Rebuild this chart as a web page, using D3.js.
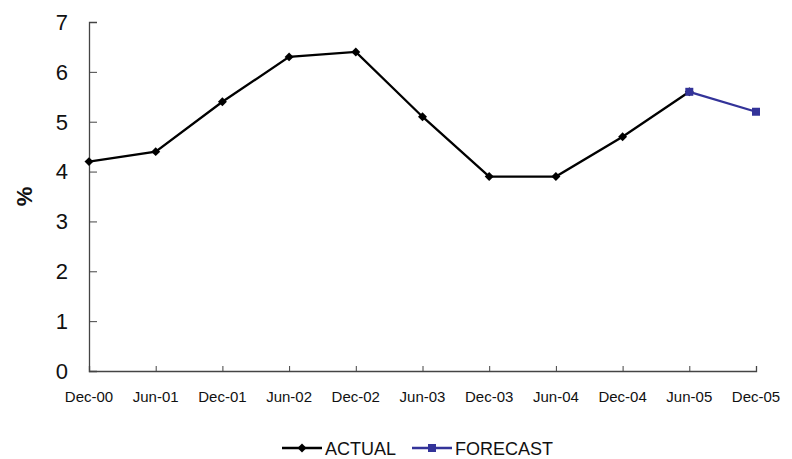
<!DOCTYPE html>
<html>
<head>
<meta charset="utf-8">
<script src="https://cdn.jsdelivr.net/npm/d3@7"></script>
<style>
  body { margin: 0; background: #fff; }
  svg { font-family: Arial, "Liberation Sans", sans-serif; }
</style>
</head>
<body>
<div id="chart"></div>
<script>
// categories + values
var periods = ["Dec-00","Jun-01","Dec-01","Jun-02","Dec-02","Jun-03","Dec-03","Jun-04","Dec-04","Jun-05","Dec-05"];
var actual = [4.2, 4.4, 5.4, 6.3, 6.4, 5.1, 3.9, 3.9, 4.7, 5.6, null];
var forecast = [null, null, null, null, null, null, null, null, null, 5.6, 5.2];
var yTicks = [0, 1, 2, 3, 4, 5, 6, 7];

var W = 792, H = 459;
var margin = {top: 22, right: 36, bottom: 88, left: 89},
    width = W - margin.left - margin.right,
    height = H - margin.top - margin.bottom;

var svg = d3.select("#chart").append("svg")
  .attr("width", W)
  .attr("height", H);

var g = svg.append("g")
  .attr("transform", "translate(" + margin.left + "," + margin.top + ")");

var xScale = d3.scalePoint().domain(periods).range([0, 667]);
var yScale = d3.scaleLinear().domain([0, 7]).range([height, 0]);

// y axis, ticks point inwards
var yAxis = d3.axisRight(yScale).tickValues(yTicks).tickSize(8).tickFormat("");
var yg = g.append("g").call(yAxis);
yg.select(".domain").attr("stroke", "#444").attr("stroke-width", 1.3);
yg.selectAll(".tick line").attr("stroke", "#444");
g.selectAll(".ylab").data(yTicks).enter().append("text")
  .attr("class", "ylab")
  .attr("x", -21)
  .attr("y", function(d){ return yScale(d); })
  .attr("dy", "0.36em")
  .attr("text-anchor", "end")
  .attr("font-size", "22px")
  .attr("fill", "#111")
  .text(function(d){ return d; });

// x axis, ticks up
var xAxis = d3.axisTop(xScale).tickSize(5).tickFormat("");
var xg = g.append("g").attr("transform", "translate(0," + height + ")").call(xAxis);
xg.select(".domain").attr("stroke", "#444").attr("stroke-width", 1.3);
xg.selectAll(".tick line").attr("stroke", "#444");
g.selectAll(".xlab").data(periods).enter().append("text")
  .attr("class", "xlab")
  .attr("x", function(d){ return xScale(d); })
  .attr("y", height + 31)
  .attr("text-anchor", "middle")
  .attr("font-size", "15px")
  .attr("fill", "#111")
  .text(function(d){ return d; });

// y title
svg.append("text")
  .attr("transform", "translate(32," + (margin.top + height / 2) + ") rotate(-90)")
  .attr("text-anchor", "middle")
  .attr("font-size", "22px")
  .attr("font-weight", "bold")
  .attr("fill", "#111")
  .text("%");

var line = d3.line()
  .defined(function(d){ return d.v != null; })
  .x(function(d){ return xScale(d.p); })
  .y(function(d){ return yScale(d.v); });

function toPts(vals) {
  return periods.map(function(p, i){ return {p: p, v: vals[i]}; });
}

// excel style diamond = square turned 45deg
var diamond = d3.symbol().type(d3.symbolSquare).size(40);
var square = d3.symbol().type(d3.symbolSquare).size(64);

var aPts = toPts(actual), fPts = toPts(forecast);

g.append("path").attr("d", line(aPts))
  .attr("fill", "none").attr("stroke", "#000").attr("stroke-width", 2.3);
g.selectAll(".mA").data(aPts.filter(function(d){ return d.v != null; })).enter()
  .append("path").attr("class", "mA")
  .attr("d", diamond)
  .attr("transform", function(d){ return "translate(" + xScale(d.p) + "," + yScale(d.v) + ") rotate(45)"; })
  .attr("fill", "#000");

g.append("path").attr("d", line(fPts))
  .attr("fill", "none").attr("stroke", "#333399").attr("stroke-width", 2.3);
g.selectAll(".mF").data(fPts.filter(function(d){ return d.v != null; })).enter()
  .append("path").attr("class", "mF")
  .attr("d", square)
  .attr("transform", function(d){ return "translate(" + xScale(d.p) + "," + yScale(d.v) + ")"; })
  .attr("fill", "#333399");

// legend
var legend = [
  {name: "ACTUAL", color: "#000", sym: diamond, rot: 45, x: 282},
  {name: "FORECAST", color: "#333399", sym: square, rot: 0, x: 412}
];
var lg = svg.selectAll(".leg").data(legend).enter().append("g")
  .attr("class", "leg")
  .attr("transform", function(d){ return "translate(" + d.x + ",448)"; });
lg.append("line").attr("x1", 0).attr("x2", 40).attr("y1", 0).attr("y2", 0)
  .attr("stroke", function(d){ return d.color; }).attr("stroke-width", 2.3);
lg.append("path").attr("d", function(d){ return d.sym(); })
  .attr("transform", function(d){ return "translate(20,0) rotate(" + d.rot + ")"; })
  .attr("fill", function(d){ return d.color; });
lg.append("text").attr("x", 43).attr("y", 6.5)
  .attr("font-size", "18px").attr("fill", "#111")
  .text(function(d){ return d.name; });
</script>
</body>
</html>
